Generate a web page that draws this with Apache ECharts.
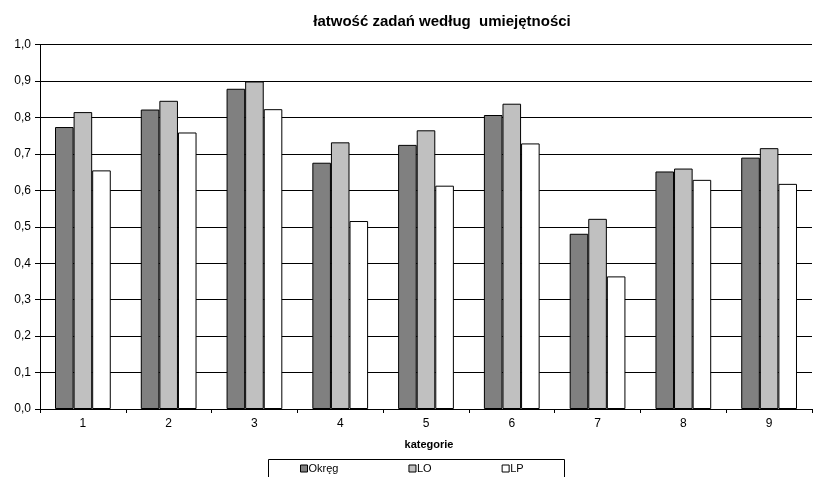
<!DOCTYPE html>
<html>
<head>
<meta charset="utf-8">
<script src="https://cdn.jsdelivr.net/npm/echarts@6/dist/echarts.min.js"></script>
<style>html,body{margin:0;padding:0;background:#fff}#c{width:813px;height:477px}</style>
</head>
<body>
<div id="c"></div>
<script>
const categories = ['1','2','3','4','5','6','7','8','9'];
const okreg = [0.774, 0.822, 0.879, 0.676, 0.725, 0.807, 0.481, 0.652, 0.690];
const lo    = [0.815, 0.846, 0.899, 0.732, 0.765, 0.838, 0.522, 0.660, 0.716];
const lp    = [0.655, 0.759, 0.823, 0.516, 0.613, 0.729, 0.364, 0.629, 0.618];
const seriesNames = ['Okręg', 'LO', 'LP'];
const titleText = 'łatwość zadań według  umiejętności';
const xName = 'kategorie';

const chart = echarts.init(document.getElementById('c'), null, {renderer: 'canvas'});
const font = 'Liberation Sans, Arial, sans-serif';
const colors = ['#808080', '#c0c0c0', '#ffffff'];
const datasets = [okreg, lo, lp];
chart.setOption({
  animation: false,
  backgroundColor: '#fff',
  title: {
    text: titleText, left: 437, top: 9, textAlign: 'center',
    textStyle: {fontFamily: font, fontSize: 15, fontWeight: 'bold', color: '#000'}
  },
  grid: {left: 40, right: 1, top: 44.7, bottom: 68, containLabel: false},
  xAxis: {
    type: 'category', data: categories,
    name: xName, nameLocation: 'middle', nameGap: 30,
    nameTextStyle: {fontFamily: font, fontSize: 11, fontWeight: 'bold', color: '#000', padding: [0,0,0,6]},
    axisLine: {lineStyle: {color: '#000', width: 1}},
    axisTick: {show: true, length: 4, inside: false, lineStyle: {color: '#000'}},
    axisLabel: {fontFamily: font, fontSize: 12, color: '#000', margin: 9},
    splitLine: {show: false}
  },
  yAxis: {
    type: 'value', min: 0, max: 1, interval: 0.1,
    axisLine: {show: true, lineStyle: {color: '#000', width: 1}},
    axisTick: {show: true, length: 5, lineStyle: {color: '#000'}},
    axisLabel: {fontFamily: font, fontSize: 12, color: '#000', margin: 9,
      formatter: v => v.toFixed(1).replace('.', ',')},
    splitLine: {show: true, lineStyle: {color: '#000', width: 1}}
  },
  legend: {
    data: seriesNames, left: 300, top: 463, itemWidth: 7, itemHeight: 7,
    itemGap: 70, padding: 0, icon: 'rect',
    textStyle: {fontFamily: font, fontSize: 11, color: '#000', padding: [0,0,0,-4]},
    itemStyle: {borderColor: '#000', borderWidth: 1}
  },
  graphic: [{
    type: 'rect', left: 266, top: 457,
    shape: {width: 296, height: 30},
    style: {fill: 'none', stroke: '#000', lineWidth: 1}, z: 10
  }],
  series: datasets.map((d, i) => ({
    name: seriesNames[i], type: 'bar', data: d,
    barGap: '0%', barCategoryGap: '35%',
    itemStyle: {color: colors[i], borderColor: '#000', borderWidth: 1}
  }))
});
</script>
</body>
</html>
